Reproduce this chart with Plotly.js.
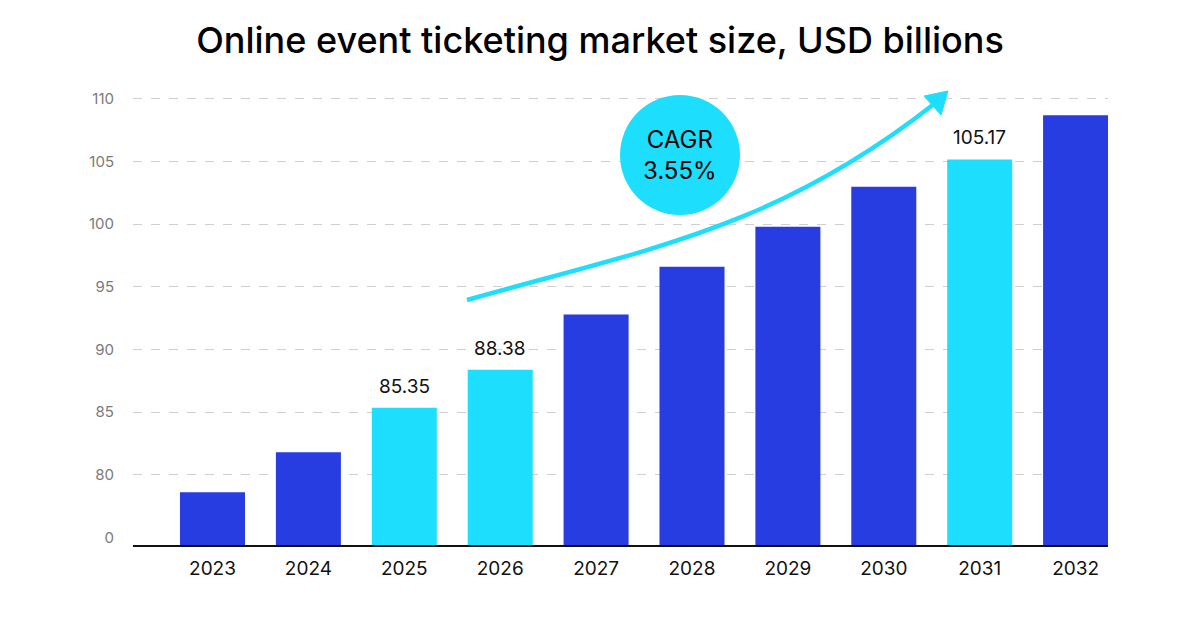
<!DOCTYPE html>
<html>
<head>
<meta charset="utf-8">
<script src="https://cdn.plot.ly/plotly-3.0.1.min.js"></script>
<style>
  html, body { margin: 0; padding: 0; background: #ffffff; }
  #chart { width: 1200px; height: 630px; }
</style>
</head>
<body>
<div id="chart"></div>
<script>
// Online event ticketing market size, USD billions
const years = ['2023', '2024', '2025', '2026', '2027', '2028', '2029', '2030', '2031', '2032'];
const marketSize = [78.6, 81.8, 85.35, 88.38, 92.8, 96.6, 99.8, 103.0, 105.17, 108.7];
const labelled = [false, false, true, true, false, false, false, false, true, false];

// broken value axis: the bottom tick stands for 0, the rest start at 80
const gridTicks = [80, 85, 90, 95, 100, 105, 110];
const gridTickText = ['80', '85', '90', '95', '100', '105', '110'];
const zeroTick = [75];
const zeroTickText = ['0'];

const cagrText = 'CAGR<br>3.55%';

const BLUE = '#273DE2';
const CYAN = '#1EDEFD';

const W = 1200, H = 630;
const M = { l: 133, r: 92, t: 90, b: 85 };
const plotW = W - M.l - M.r;
const plotH = H - M.t - M.b;
// pixel position -> paper fraction, for the decorative arrow and badge
const px = x => (x - M.l) / plotW;
const py = y => (H - M.b - y) / plotH;

const yRange = [74.4, 74.4 + plotH / 12.53];

const bars = {
  type: 'bar',
  x: years,
  y: marketSize,
  marker: { color: labelled.map(f => f ? CYAN : BLUE), line: { width: 0 } },
  hoverinfo: 'x+y',
  yaxis: 'y'
};

// value labels above the highlighted bars (category axis: position by index)
const valueLabels = [];
years.forEach((yr, i) => {
  if (!labelled[i]) return;
  valueLabels.push({
    x: i, y: marketSize[i], xref: 'x', yref: 'y',
    text: marketSize[i].toFixed(2), showarrow: false,
    xanchor: 'center', yanchor: 'bottom', yshift: 8,
    font: { family: 'Inter, Lato, sans-serif', size: 19, color: '#111111' }
  });
});

// growth arrow: a curve plus a filled head
const curve = `M ${px(467)} ${py(300)} C ${px(647)} ${py(249)}, ${px(775)} ${py(229)}, ${px(934)} ${py(104)}`;
const head = `M ${px(948)} ${py(91)} L ${px(924)} ${py(96)} L ${px(941)} ${py(115)} Z`;

const cx = 680, cy = 155, r = 60;

const tickFontY = { family: 'Inter, Lato, sans-serif', size: 15, color: '#7a7a7a' };

const layout = {
  width: W, height: H,
  margin: M,
  paper_bgcolor: '#ffffff',
  plot_bgcolor: '#ffffff',
  showlegend: false,
  bargap: 0.322,
  title: {
    text: 'Online event ticketing market size, USD billions',
    x: 0.5, xref: 'container', xanchor: 'center',
    y: 1 - 40 / H, yref: 'container', yanchor: 'middle',
    font: { family: 'Inter, Lato, sans-serif', size: 36, color: '#000000', weight: 500 }
  },
  xaxis: {
    type: 'category',
    range: [-0.829, 9.338],
    showgrid: false,
    zeroline: false,
    showline: true,
    linecolor: '#111111',
    linewidth: 2,
    ticks: '',
    ticklabelstandoff: 5,
    tickfont: { family: 'Inter, Lato, sans-serif', size: 19, color: '#111111' },
    fixedrange: true
  },
  yaxis: {
    range: yRange,
    tickvals: gridTicks,
    ticktext: gridTickText,
    showgrid: true,
    gridcolor: '#cfcfcf',
    griddash: 'dash',
    gridwidth: 1,
    zeroline: false,
    showline: false,
    ticks: '',
    ticklabelstandoff: 18,
    tickfont: tickFontY,
    fixedrange: true
  },
  yaxis2: {
    overlaying: 'y',
    side: 'left',
    range: yRange,
    tickvals: zeroTick,
    ticktext: zeroTickText,
    showgrid: false,
    zeroline: false,
    showline: false,
    ticks: '',
    ticklabelstandoff: 18,
    tickfont: tickFontY,
    fixedrange: true
  },
  shapes: [
    { type: 'path', xref: 'paper', yref: 'paper', path: curve,
      line: { color: CYAN, width: 4.5 }, layer: 'above' },
    { type: 'path', xref: 'paper', yref: 'paper', path: head,
      fillcolor: CYAN, line: { color: CYAN, width: 1 }, layer: 'above' },
    { type: 'circle', xref: 'paper', yref: 'paper',
      x0: px(cx - r), x1: px(cx + r), y0: py(cy + r), y1: py(cy - r),
      fillcolor: CYAN, line: { width: 0 }, layer: 'above' }
  ],
  annotations: valueLabels.concat([
    { x: px(cx), y: py(cy), xref: 'paper', yref: 'paper',
      text: cagrText, showarrow: false, align: 'center',
      xanchor: 'center', yanchor: 'middle',
      font: { family: 'Inter, Lato, sans-serif', size: 24, color: '#000000' } }
  ])
};

// invisible trace so the second axis (holding the "0" tick) is drawn
const zeroAxisTrace = {
  type: 'scatter', x: [years[0]], y: [zeroTick[0]], yaxis: 'y2',
  mode: 'markers', marker: { opacity: 0 }, hoverinfo: 'skip'
};

Plotly.newPlot('chart', [bars, zeroAxisTrace], layout, { displayModeBar: false, staticPlot: true });
</script>
</body>
</html>
